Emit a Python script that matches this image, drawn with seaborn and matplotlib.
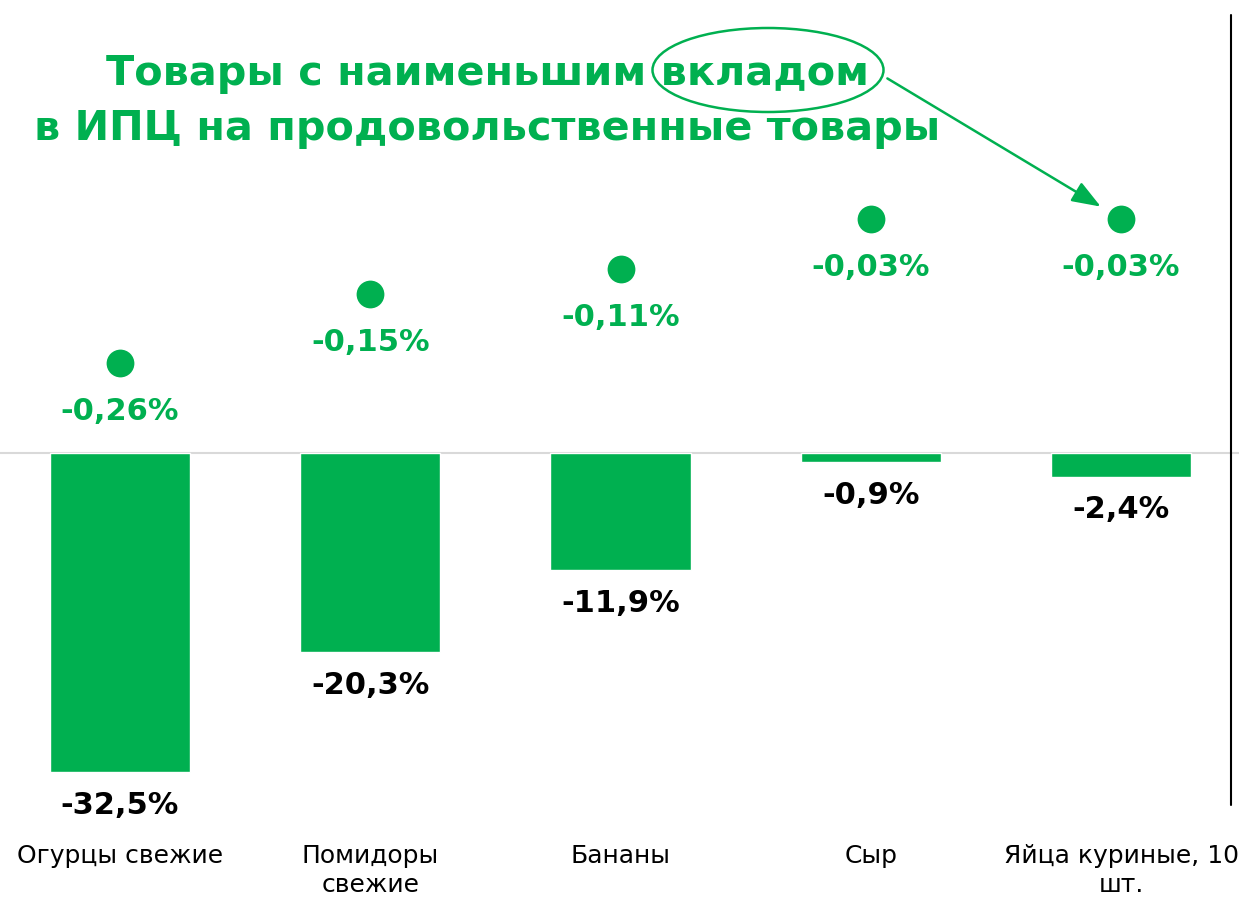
import matplotlib
matplotlib.use("Agg")
import matplotlib.pyplot as plt
import pandas as pd
import seaborn as sns
from matplotlib.patches import Ellipse
from matplotlib.lines import Line2D

sns.set_theme(style="white")
plt.rcParams["font.family"] = ["DejaVu Sans"]

# data
categories = ["Огурцы свежие", "Помидоры\nсвежие", "Бананы", "Сыр", "Яйца куриные, 10\nшт."]
price_change = [-32.5, -20.3, -11.9, -0.9, -2.4]       # bars, %
cpi_contribution = [-0.26, -0.15, -0.11, -0.03, -0.03]  # dots, p.p.
title_lines = ["Товары с наименьшим вкладом", "в ИПЦ на продовольственные товары"]

green = "#00B050"
W, H = 1239, 900

df = pd.DataFrame(dict(cat=categories, change=price_change, contrib=cpi_contribution))

fig = plt.figure(figsize=(W / 100, H / 100), dpi=100)
ax = fig.add_axes([0, 70 / H, 1, 830 / H])

sns.barplot(data=df, x="cat", y="change", color=green, saturation=1, width=0.56, ax=ax)
ax.set_xlim(-120 / 250.25, 4 + (W - 1121) / 250.25)
ax.set_ylim(-(830 - 453) / 9.82, 453 / 9.82)
ax.axhline(0, color="#D9D9D9", lw=1.5, zorder=0)

for i, v in enumerate(price_change):
    ax.annotate(f"{v:.1f}%".replace(".", ","), (i, v), xytext=(0, -24),
                textcoords="offset points", ha="center", va="center",
                fontsize=22, fontweight="bold", color="black")

ax2 = ax.twinx()
sns.scatterplot(data=df, x="cat", y="contrib", color=green, s=400, linewidth=0, ax=ax2)
ax2.set_ylim(-(830 - 200) / 626, 200 / 626)
for i, v in enumerate(cpi_contribution):
    ax2.annotate(f"{v:.2f}%".replace(".", ","), (i, v), xytext=(0, -35),
                 textcoords="offset points", ha="center", va="center",
                 fontsize=22, fontweight="bold", color=green)

for a in (ax, ax2):
    a.set_xlabel("")
    a.set_ylabel("")
    a.set_yticks([])
    for s in a.spines.values():
        s.set_visible(False)
ax.tick_params(axis="x", length=0, pad=10, labelsize=18, labelcolor="black")
for t in ax.get_xticklabels():
    t.set_multialignment("center")
    t.set_linespacing(1.25)

# title annotation with ellipse and arrow
for line, base in zip(title_lines, [85, 140]):
    fig.text(487 / W, 1 - base / H, line, ha="center", va="baseline", color=green,
             fontsize=29.8, fontweight="bold")
fig.patches.append(Ellipse((768 / W, 1 - 70 / H), 231 / W, 84 / H, fill=False,
                           edgecolor=green, lw=1.8, transform=fig.transFigure))
ax2.annotate("", xy=(4, cpi_contribution[-1]), xytext=(885 / W, 1 - 77 / H),
             textcoords="figure fraction",
             arrowprops=dict(arrowstyle="-|>,head_length=0.8,head_width=0.3",
                             color=green, lw=1.8, mutation_scale=22, shrinkB=17))

# slide divider on the right
fig.lines.append(Line2D([1231 / W, 1231 / W], [1 - 15 / H, 1 - 805 / H],
                        color="black", lw=1.5, transform=fig.transFigure))

fig.savefig("out.png", dpi=100)
